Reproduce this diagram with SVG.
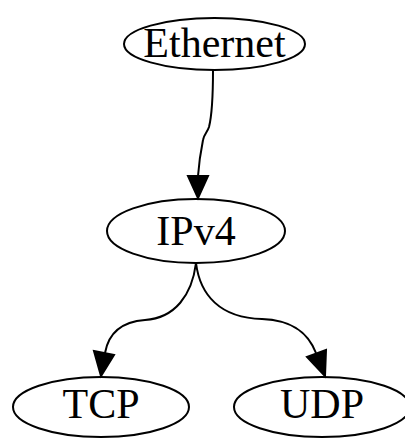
<svg xmlns="http://www.w3.org/2000/svg" width="405" height="438" viewBox="0 0 405 438">
  <style>
    .node ellipse { fill: none; stroke: #000; stroke-width: 2; }
    .node text { font-family: "Liberation Serif", "Times New Roman", serif; font-size: 42px; fill: #000; text-anchor: middle; }
    .edge path { fill: none; stroke: #000; stroke-width: 2; }
    .edge polygon { fill: #000; stroke: #000; stroke-width: 2; }
  </style>
  <rect width="405" height="438" fill="#fff"/>

  <g id="edges">
    <g class="edge" id="ethernet-ipv4">
      <path d="M213,70 C213,95 212,115 209,127 C207,133 204,134 203,140 C201,150 199,162 198,176"/>
      <polygon points="188,176 208,176 198,198"/>
    </g>
    <g class="edge" id="ipv4-tcp">
      <path d="M196,263 C192,295 175,318 145,320 C118,322 108,336 105,353"/>
      <polygon points="94,351 114,355 101,376"/>
    </g>
    <g class="edge" id="ipv4-udp">
      <path d="M196,263 C200,295 220,318 262,319 C295,320 309,335 316,353"/>
      <polygon points="307,357 326,350 325,376"/>
    </g>
  </g>

  <g class="node" id="ethernet">
    <ellipse cx="214.5" cy="44" rx="90.5" ry="26"/>
    <text x="214.5" y="57">Ethernet</text>
  </g>
  <g class="node" id="ipv4">
    <ellipse cx="196" cy="231" rx="89" ry="32"/>
    <text x="196" y="245">IPv4</text>
  </g>
  <g class="node" id="tcp">
    <ellipse cx="101" cy="407" rx="88" ry="30"/>
    <text x="101" y="418">TCP</text>
  </g>
  <g class="node" id="udp">
    <ellipse cx="322" cy="407" rx="88" ry="30"/>
    <text x="322" y="418">UDP</text>
  </g>
</svg>
